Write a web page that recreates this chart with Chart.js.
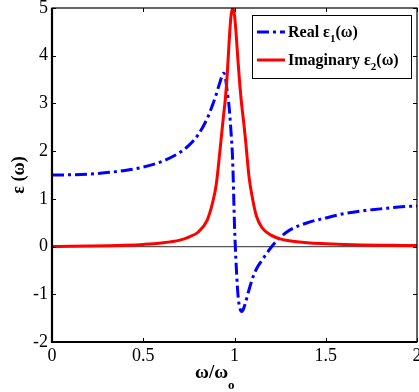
<!DOCTYPE html>
<html>
<head>
<meta charset="utf-8">
<script src="https://cdn.jsdelivr.net/npm/chart.js@4"></script>
<style>
  html, body { margin: 0; padding: 0; background: #fff; }
  #wrap { width: 419px; height: 392px; }
</style>
</head>
<body>
<div id="wrap"><canvas id="c" width="419" height="392"></canvas></div>
<script>
// omega / omega_0
const omega = [0, 0.1, 0.2, 0.3, 0.4, 0.5, 0.6, 0.7, 0.75, 0.8, 0.85, 0.88, 0.9, 0.92, 0.94, 0.95, 0.96, 0.97, 0.98, 0.99,
  1.0, 1.01, 1.02, 1.03, 1.04, 1.05, 1.06, 1.08, 1.1, 1.12, 1.15, 1.2, 1.25, 1.3, 1.4, 1.5, 1.6, 1.7, 1.8, 1.9, 2.0];

// Real part eps1
const eps1 = [1.50, 1.505, 1.52, 1.55, 1.595, 1.665, 1.78, 1.97, 2.12, 2.34, 2.68, 2.97, 3.19, 3.44, 3.63, 3.55, 3.25, 2.95, 2.45, 1.80,
  0.45, -0.45, -1.05, -1.30, -1.36, -1.30, -1.18, -0.90, -0.65, -0.47, -0.29, -0.02, 0.19, 0.34, 0.50, 0.60, 0.69, 0.75, 0.79, 0.83, 0.85];

// Imaginary part eps2
const eps2 = [0, 0.005, 0.011, 0.018, 0.028, 0.045, 0.075, 0.135, 0.20, 0.30, 0.55, 0.92, 1.30, 2.0, 2.75, 3.1, 3.6, 4.25, 4.8, 5.0,
  4.85, 4.4, 3.85, 3.35, 2.95, 2.62, 2.25, 1.45, 0.98, 0.64, 0.40, 0.24, 0.16, 0.12, 0.08, 0.06, 0.045, 0.035, 0.028, 0.024, 0.02];

const zeroX = [0, 2];
const zeroY = [0, 0];

const xTicks = [0, 0.5, 1, 1.5, 2];
const yTicks = [-2, -1, 0, 1, 2, 3, 4, 5];

const legendItems = [
  { main: "Real ε", sub: "1", tail: "(ω)", color: "#0000ff", dash: [12, 4, 3, 4] },
  { main: "Imaginary ε", sub: "2", tail: "(ω)", color: "#ff0000", dash: [] },
];

const SERIF = '"Liberation Serif", serif';
const pts = (xs, ys) => xs.map((x, i) => ({ x, y: ys[i] }));

// box, inward ticks, axis titles, legend (matlab look)
const decor = {
  id: "decor",
  afterDatasetsDraw(chart) {
    const { ctx, chartArea: a, scales } = chart;
    ctx.save();
    ctx.strokeStyle = "#000";
    // ticks
    ctx.lineWidth = 1;
    ctx.beginPath();
    for (const v of xTicks) {
      const px = Math.round(scales.x.getPixelForValue(v)) + 0.5;
      ctx.moveTo(px, a.bottom); ctx.lineTo(px, a.bottom - 4);
      ctx.moveTo(px, a.top); ctx.lineTo(px, a.top + 4);
    }
    for (const v of yTicks) {
      const py = Math.round(scales.y.getPixelForValue(v)) + 0.5;
      ctx.moveTo(a.left, py); ctx.lineTo(a.left + 4, py);
      ctx.moveTo(a.right, py); ctx.lineTo(a.right - 4, py);
    }
    ctx.stroke();
    // frame
    ctx.lineWidth = 1.2;
    ctx.strokeRect(a.left, a.top, a.right - a.left, a.bottom - a.top);
    ctx.lineWidth = 2.2;
    ctx.beginPath();
    ctx.moveTo(a.left, a.top); ctx.lineTo(a.left, a.bottom); ctx.lineTo(a.right, a.bottom);
    ctx.stroke();
    ctx.restore();
  },
  afterDraw(chart) {
    const { ctx, chartArea: a } = chart;
    ctx.save();
    ctx.fillStyle = "#000";
    ctx.textBaseline = "alphabetic";

    // y title
    ctx.save();
    ctx.translate(24, (a.top + a.bottom) / 2);
    ctx.rotate(-Math.PI / 2);
    ctx.textAlign = "center";
    ctx.font = "bold 18px " + SERIF;
    ctx.fillText("ε (ω)", 0, 0);
    ctx.restore();

    // x title with subscript
    ctx.textAlign = "left";
    ctx.font = "bold 19px " + SERIF;
    const xt = "ω/ω";
    let x0 = 195;
    ctx.fillText(xt, x0, 378);
    x0 += ctx.measureText(xt).width;
    ctx.font = "bold 13px " + SERIF;
    ctx.fillText("o", x0, 389);

    // legend
    const box = { x: 252, y: 15, w: 159, h: 63 };
    ctx.fillStyle = "#fff";
    ctx.fillRect(box.x, box.y, box.w, box.h);
    ctx.strokeStyle = "#000";
    ctx.lineWidth = 1;
    ctx.strokeRect(box.x + 0.5, box.y + 0.5, box.w, box.h);
    legendItems.forEach((it, i) => {
      const cy = 32 + i * 28;
      ctx.strokeStyle = it.color;
      ctx.lineWidth = 3;
      ctx.setLineDash(it.dash);
      ctx.beginPath();
      ctx.moveTo(257, cy); ctx.lineTo(285, cy);
      ctx.stroke();
      ctx.setLineDash([]);
      ctx.fillStyle = "#000";
      let tx = 288;
      ctx.font = "bold 16px " + SERIF;
      ctx.fillText(it.main, tx, cy + 5);
      tx += ctx.measureText(it.main).width;
      ctx.font = "bold 11px " + SERIF;
      ctx.fillText(it.sub, tx, cy + 10);
      tx += ctx.measureText(it.sub).width;
      ctx.font = "bold 16px " + SERIF;
      ctx.fillText(it.tail, tx, cy + 5);
    });
    ctx.restore();
  },
};

new Chart(document.getElementById("c"), {
  type: "line",
  data: {
    datasets: [
      { label: "zero", data: pts(zeroX, zeroY), borderColor: "#555", borderWidth: 1.3, pointRadius: 0, order: 3 },
      { label: "Real ε1(ω)", data: pts(omega, eps1), borderColor: "#0000ff", borderWidth: 3,
        borderDash: [12, 4, 3, 4], pointRadius: 0, cubicInterpolationMode: "monotone", order: 2 },
      { label: "Imaginary ε2(ω)", data: pts(omega, eps2), borderColor: "#ff0000", borderWidth: 3,
        pointRadius: 0, cubicInterpolationMode: "monotone", order: 1 },
    ],
  },
  options: {
    responsive: false,
    animation: false,
    layout: { padding: { top: 8, right: 2, left: 0, bottom: 0 } },
    plugins: { legend: { display: false }, tooltip: { enabled: false } },
    scales: {
      x: {
        type: "linear", min: 0, max: 2,
        afterBuildTicks: s => { s.ticks = xTicks.map(v => ({ value: v })); },
        afterFit: s => { s.height = 50; s.paddingLeft = 0; s.paddingRight = 0; },
        grid: { display: false, drawTicks: false },
        border: { display: false },
        ticks: { color: "#000", padding: 3, font: { family: SERIF, size: 18 }, maxRotation: 0,
          callback: v => String(v) },
      },
      y: {
        type: "linear", min: -2, max: 5,
        afterBuildTicks: s => { s.ticks = yTicks.map(v => ({ value: v })); },
        afterFit: s => { s.width = 52; s.paddingTop = 0; s.paddingBottom = 0; },
        grid: { display: false, drawTicks: false },
        border: { display: false },
        ticks: { color: "#000", padding: 4, font: { family: SERIF, size: 18 }, callback: v => String(v) },
      },
    },
  },
  plugins: [decor],
});
</script>
</body>
</html>
